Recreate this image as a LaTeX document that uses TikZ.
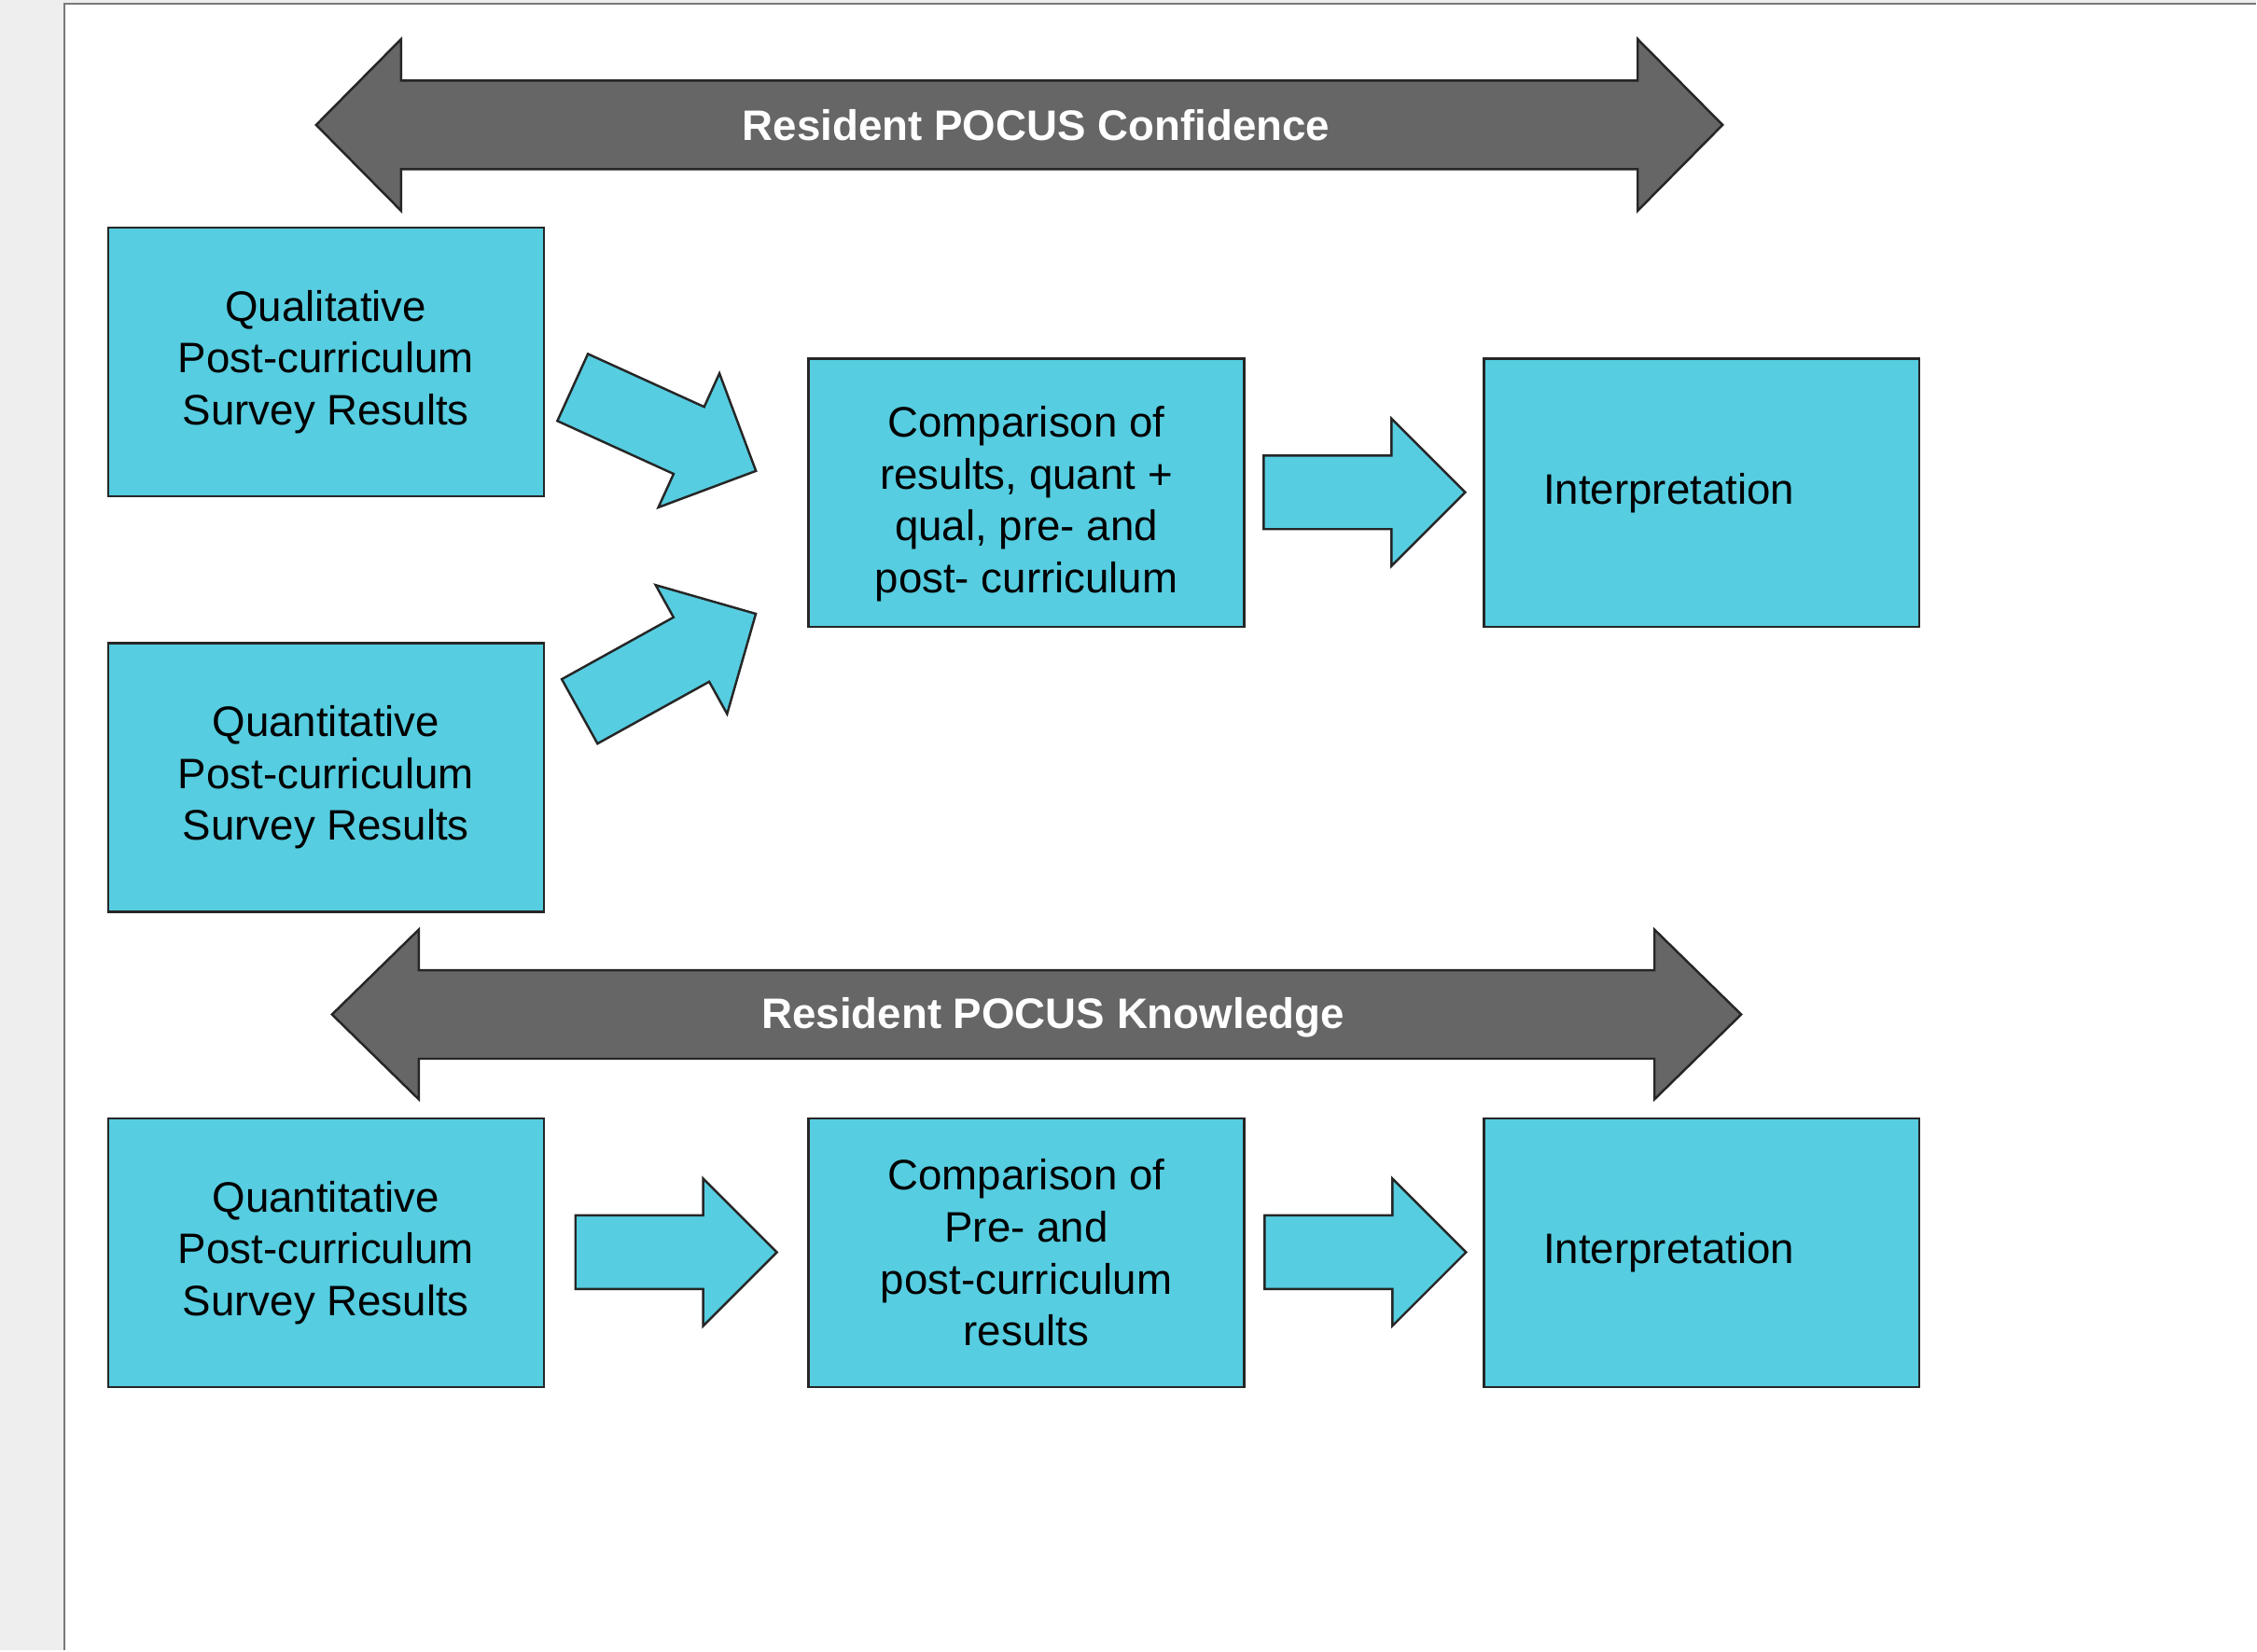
\documentclass[tikz,border=0pt]{standalone}
\usepackage{fontspec}
\setmainfont{Liberation Sans}
\definecolor{boxcyan}{RGB}{86,205,224}
\definecolor{darkarrow}{RGB}{102,102,102}
\definecolor{pagegray}{RGB}{238,238,238}
\definecolor{framegray}{RGB}{120,120,120}
\begin{document}
\begin{tikzpicture}[x=1cm,y=1cm,
  box/.style={draw=black!85, line width=0.7pt, fill=boxcyan, minimum width=4.67cm, minimum height=2.88cm, align=center, inner sep=0pt, font=\fontsize{13}{15.8}\selectfont},
  boxtext/.style={align=center, inner sep=0pt, font=\fontsize{13}{15.8}\selectfont},
  blockarrow/.style={draw=black!85, line width=0.7pt, fill=boxcyan, line join=miter},
  bigarrow/.style={draw=black!85, line width=0.7pt, fill=darkarrow},
  bigtext/.style={text=white, inner sep=0pt, font=\bfseries\fontsize{13}{15.8}\selectfont},
  harrow/.pic={\path[blockarrow] (0,0.395) -- (1.37,0.395) -- (1.37,0.79) -- (2.16,0) -- (1.37,-0.79) -- (1.37,-0.395) -- (0,-0.395) -- cycle;}
]
% page background
\fill[pagegray] (0,0) rectangle (24.19,-17.70);
\fill[white] (0.69,-0.04) rectangle (24.19,-17.70);
\draw[framegray, line width=0.6pt] (0.69,-17.70) -- (0.69,-0.04) -- (24.19,-0.04);
\useasboundingbox (0,0) rectangle (24.19,-17.70);

% top double arrow
\draw[bigarrow] (3.39,-1.34) -- (4.30,-0.42) -- (4.30,-0.865) -- (17.56,-0.865) -- (17.56,-0.42) -- (18.47,-1.34) -- (17.56,-2.26) -- (17.56,-1.815) -- (4.30,-1.815) -- (4.30,-2.26) -- cycle;
\node[bigtext] (conf) at (11.11,-1.34) {Resident POCUS Confidence};

% bottom double arrow
\draw[bigarrow] (3.56,-10.88) -- (4.49,-9.97) -- (4.49,-10.405) -- (17.74,-10.405) -- (17.74,-9.97) -- (18.67,-10.88) -- (17.74,-11.79) -- (17.74,-11.355) -- (4.49,-11.355) -- (4.49,-11.79) -- cycle;
\node[bigtext] (know) at (11.29,-10.91) {Resident POCUS Knowledge};

% boxes
\node[box] (qual) at (3.495,-3.88) {Qualitative\\Post-curriculum\\Survey Results};
\node[box] (quant) at (3.495,-8.34) {Quantitative\\Post-curriculum\\Survey Results};
\node[box] (comp1) at (11.005,-5.285) {};
\node[boxtext] (comp1text) at ([yshift=-0.12cm]comp1.center) {Comparison of\\results, quant +\\qual, pre- and\\post- curriculum};
\node[box] (interp1) at (18.245,-5.285) {Interpretation\hspace*{0.7cm}};
\node[box] (quant2) at (3.495,-13.435) {Quantitative\\Post-curriculum\\Survey Results};
\node[box] (comp2) at (11.005,-13.435) {Comparison of\\Pre- and\\post-curriculum\\results};
\node[box] (interp2) at (18.245,-13.435) {Interpretation\hspace*{0.7cm}};

% block arrows
\path (6.14,-4.155) pic[rotate=-24.5] {harrow};
\path (6.215,-7.63) pic[rotate=29] {harrow};
\path (13.55,-5.28) pic {harrow};
\path (6.17,-13.43) pic {harrow};
\path (13.56,-13.43) pic {harrow};
\end{tikzpicture}
\end{document}
